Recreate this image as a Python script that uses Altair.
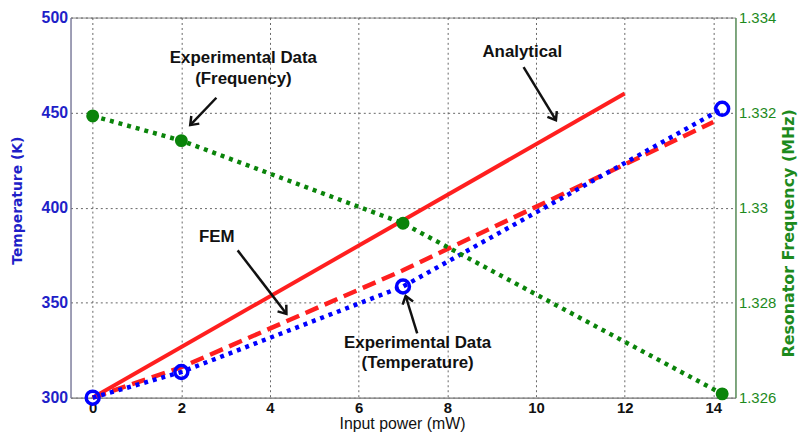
import math
import altair as alt
import pandas as pd

# ---------------- data ----------------
power_exp = [0, 2, 7, 14.2]
temp_exp = [300, 313.5, 358.5, 452]
freq_exp = [1.33193, 1.33141, 1.32967, 1.32608]

power_analytical = [0, 12]
temp_analytical = [300, 460]

power_fem = [0, 2, 7, 14]
temp_fem = [300, 316, 367, 445]

x_ticks = [0, 2, 4, 6, 8, 10, 12, 14]
temp_ticks = [300, 350, 400, 450, 500]
freq_ticks = [1.326, 1.328, 1.33, 1.332, 1.334]

label_text = ["Experimental Data", "(Frequency)", "Analytical", "FEM",
              "Experimental Data", "(Temperature)"]
label_x = [3.40, 3.40, 9.69, 2.80, 7.33, 7.33]
label_y = [478.6, 467.6, 482.0, 384.3, 328.6, 318.0]

arrow_x1 = [2.79, 9.72, 3.27, 7.32]
arrow_y1 = [457.8, 473.9, 377.5, 333.8]
arrow_x2 = [2.20, 10.45, 4.37, 7.06]
arrow_y2 = [443.4, 446.0, 344.1, 353.5]

# ---------------- layout ----------------
W, H = 670, 383
X_DOM = [-0.5, 14.5]
T_DOM = [300, 500]
F_DOM = [1.326, 1.334]

BLUE = "#0000ff"
BLUE_TXT = "#1f1fc8"
GREEN = "#0a840a"
GREEN_TXT = "#1d8a1d"
RED = "#ff1f1f"


def xenc(field="x"):
    return alt.X(
        f"{field}:Q",
        scale=alt.Scale(domain=X_DOM, nice=False, zero=False),
        axis=alt.Axis(
            values=x_ticks, title="Input power (mW)", grid=True,
            gridDash=[2, 3], gridColor="#555555", gridOpacity=0.9,
            ticks=False, labelPadding=3, labelFont="Liberation Sans",
            labelFontWeight="bold", labelFontSize=15, labelColor="#111111",
            domainColor="#888888", titleFont="Liberation Sans",
            titleFontWeight="normal", titleFontSize=16, titleColor="#111111",
            titleX=334, titleY=26, titleBaseline="middle", titleAlign="center",
        ),
    )


def tscale():
    return alt.Scale(domain=T_DOM, nice=False, zero=False)


df_ana = pd.DataFrame({"x": power_analytical, "t": temp_analytical})
df_fem = pd.DataFrame({"x": power_fem, "t": temp_fem})
df_exp = pd.DataFrame({"x": power_exp, "t": temp_exp, "f": freq_exp})
df_lab = pd.DataFrame({"x": label_x, "t": label_y, "text": label_text})

# arrow heads: angle computed from direction in pixel space
ang = []
for x1, y1, x2, y2 in zip(arrow_x1, arrow_y1, arrow_x2, arrow_y2):
    dx = (x2 - x1) * W / (X_DOM[1] - X_DOM[0])
    dy = -(y2 - y1) * H / (T_DOM[1] - T_DOM[0])
    ang.append(math.degrees(math.atan2(dy, dx)) % 360)
df_arr = pd.DataFrame({"x": arrow_x1, "t": arrow_y1, "x2": arrow_x2,
                       "t2": arrow_y2, "ang": ang})

left_axis = alt.Axis(
    values=temp_ticks, title="Temperature (K)", grid=True, gridDash=[2, 3],
    gridColor="#555555", gridOpacity=0.9, ticks=False, labelPadding=3,
    labelFont="Liberation Sans", labelFontWeight="bold", labelFontSize=16,
    labelColor=BLUE_TXT, domainColor="#7a7aa8", orient="left",
    titleFont="DejaVu Sans", titleFontWeight="bold", titleFontSize=14,
    titleColor=BLUE_TXT, titleAngle=270, titleX=-53, titleY=184,
    titleAlign="center", titleBaseline="middle",
)

ana = alt.Chart(df_ana).mark_line(color=RED, strokeWidth=4).encode(
    x=xenc(), y=alt.Y("t:Q", scale=tscale(), axis=left_axis))
fem = alt.Chart(df_fem).mark_line(color=RED, strokeWidth=4.5,
                                  strokeDash=[14, 7]).encode(
    x=xenc(), y=alt.Y("t:Q", scale=tscale(), axis=left_axis))
exp_line = alt.Chart(df_exp).mark_line(color=BLUE, strokeWidth=4.5,
                                       strokeDash=[4, 5]).encode(
    x=xenc(), y=alt.Y("t:Q", scale=tscale(), axis=left_axis))
exp_pts = alt.Chart(df_exp).mark_point(shape="circle", filled=False,
                                       color=BLUE, size=170, strokeWidth=3.5,
                                       opacity=1).encode(
    x=xenc(), y=alt.Y("t:Q", scale=tscale(), axis=left_axis))
labels = alt.Chart(df_lab).mark_text(font="Liberation Sans", fontWeight="bold",
                                     fontSize=17, color="#111111",
                                     align="center", baseline="middle").encode(
    x=xenc(), y=alt.Y("t:Q", scale=tscale(), axis=left_axis), text="text:N")
shafts = alt.Chart(df_arr).mark_rule(color="#111111", strokeWidth=2.5).encode(
    x=xenc(), y=alt.Y("t:Q", scale=tscale(), axis=left_axis),
    x2="x2:Q", y2="t2:Q")
heads = alt.Chart(df_arr).mark_point(
    shape="M -1 -0.75 L 0 0 L -1 0.75", filled=False, color="#111111",
    size=220, strokeWidth=2.5, opacity=1).encode(
    x=xenc("x2"), y=alt.Y("t2:Q", scale=tscale(), axis=left_axis),
    angle=alt.Angle("ang:Q", scale=None))

left = alt.layer(ana, fem, exp_line, exp_pts, shafts, heads, labels)

right_axis = alt.Axis(
    values=freq_ticks, format=".3~f", title="Resonator Frequency (MHz)",
    grid=False, ticks=False, labelPadding=3, labelFont="Liberation Sans",
    labelFontWeight="normal", labelFontSize=15, labelColor=GREEN_TXT,
    domainColor="#3a8a3a", orient="right",
    titleFont="DejaVu Sans", titleFontWeight="bold", titleFontSize=16,
    titleColor=GREEN_TXT, titleAngle=270, titleX=53, titleY=217,
    titleAlign="center", titleBaseline="middle",
)
fscale = alt.Scale(domain=F_DOM, nice=False, zero=False)
freq_line = alt.Chart(df_exp).mark_line(color=GREEN, strokeWidth=4.5,
                                        strokeDash=[4, 5]).encode(
    x=xenc(), y=alt.Y("f:Q", scale=fscale, axis=right_axis))
freq_pts = alt.Chart(df_exp).mark_point(shape="circle", filled=True,
                                        color=GREEN, size=170,
                                        opacity=1).encode(
    x=xenc(), y=alt.Y("f:Q", scale=fscale, axis=right_axis))
right = alt.layer(freq_line, freq_pts)

chart = (
    alt.layer(left, right)
    .resolve_scale(y="independent")
    .properties(width=W, height=H, autosize=alt.AutoSizeParams(type="none"),
                padding={"left": 63, "top": 8, "right": 64, "bottom": 38},
                background="white")
    .configure_view(stroke="#888888", strokeWidth=1)
)

chart.save("out.html", embed_options={"renderer": "svg", "actions": False})
